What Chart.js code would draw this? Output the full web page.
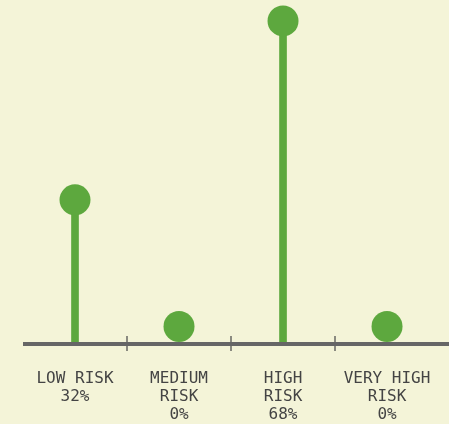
<!DOCTYPE html>
<html>
<head>
<meta charset="utf-8">
<script src="https://cdn.jsdelivr.net/npm/chart.js@4/dist/chart.umd.min.js"></script>
<style>
  html, body { margin: 0; padding: 0; background: #f4f4d8; }
  #wrap { width: 449px; height: 424px; }
</style>
</head>
<body>
<div id="wrap"><canvas id="c" width="449" height="424"></canvas></div>
<script>
// Risk distribution, in percent
const categories = ["LOW RISK", "MEDIUM RISK", "HIGH RISK", "VERY HIGH RISK"];
const tickLabels = [["LOW RISK", "32%"], ["MEDIUM", "RISK", "0%"], ["HIGH", "RISK", "68%"], ["VERY HIGH", "RISK", "0%"]];
const shares = [32, 0, 68, 0];

const GREEN = "#5da83e";
const DOT_R = 15.5;
const AXIS_W = 4;

// Baseline across the plot plus short separators between categories
const axisPlugin = {
  id: "axisLine",
  afterDatasetsDraw(chart) {
    const { ctx, chartArea } = chart;
    const x = chart.scales.x;
    const y = chartArea.bottom;
    ctx.save();
    ctx.strokeStyle = "#8a8a80";
    ctx.lineWidth = 2;
    for (let i = 1; i < categories.length; i++) {
      const px = (x.getPixelForValue(i - 1) + x.getPixelForValue(i)) / 2;
      ctx.beginPath();
      ctx.moveTo(px, y - 8);
      ctx.lineTo(px, y + 7);
      ctx.stroke();
    }
    ctx.strokeStyle = "#666666";
    ctx.lineWidth = AXIS_W;
    ctx.beginPath();
    ctx.moveTo(chartArea.left, y);
    ctx.lineTo(chart.width, y);
    ctx.stroke();
    ctx.restore();
  }
};

// Lollipop heads never sink below the baseline
const restOnAxis = {
  id: "restOnAxis",
  afterDatasetsUpdate(chart) {
    const meta = chart.getDatasetMeta(1);
    const floor = chart.chartArea.bottom - AXIS_W / 2 - DOT_R;
    meta.data.forEach(pt => { if (pt.y > floor) pt.y = floor; });
  }
};

new Chart(document.getElementById("c"), {
  data: {
    labels: tickLabels,
    datasets: [
      {
        type: "bar",
        data: shares,
        backgroundColor: GREEN,
        barThickness: 7,
        order: 2
      },
      {
        type: "line",
        data: shares,
        showLine: false,
        pointRadius: DOT_R,
        pointHoverRadius: DOT_R,
        pointBackgroundColor: GREEN,
        pointBorderWidth: 0,
        clip: false,
        order: 1
      }
    ]
  },
  options: {
    responsive: false,
    animation: false,
    events: [],
    layout: { autoPadding: false, padding: { left: 23, right: 5, top: 1, bottom: 0 } },
    plugins: { legend: { display: false }, tooltip: { enabled: false } },
    scales: {
      x: {
        type: "category",
        offset: true,
        grid: { display: false },
        border: { display: false },
        ticks: {
          color: "#444444",
          padding: 18,
          maxRotation: 0,
          autoSkip: false,
          font: { family: "'DejaVu Sans Mono', monospace", size: 16, lineHeight: 1.12 }
        },
        afterFit(s) { s.height = 80; }
      },
      y: {
        display: false,
        min: 3,
        max: 72
      }
    }
  },
  plugins: [restOnAxis, axisPlugin]
});
</script>
</body>
</html>
